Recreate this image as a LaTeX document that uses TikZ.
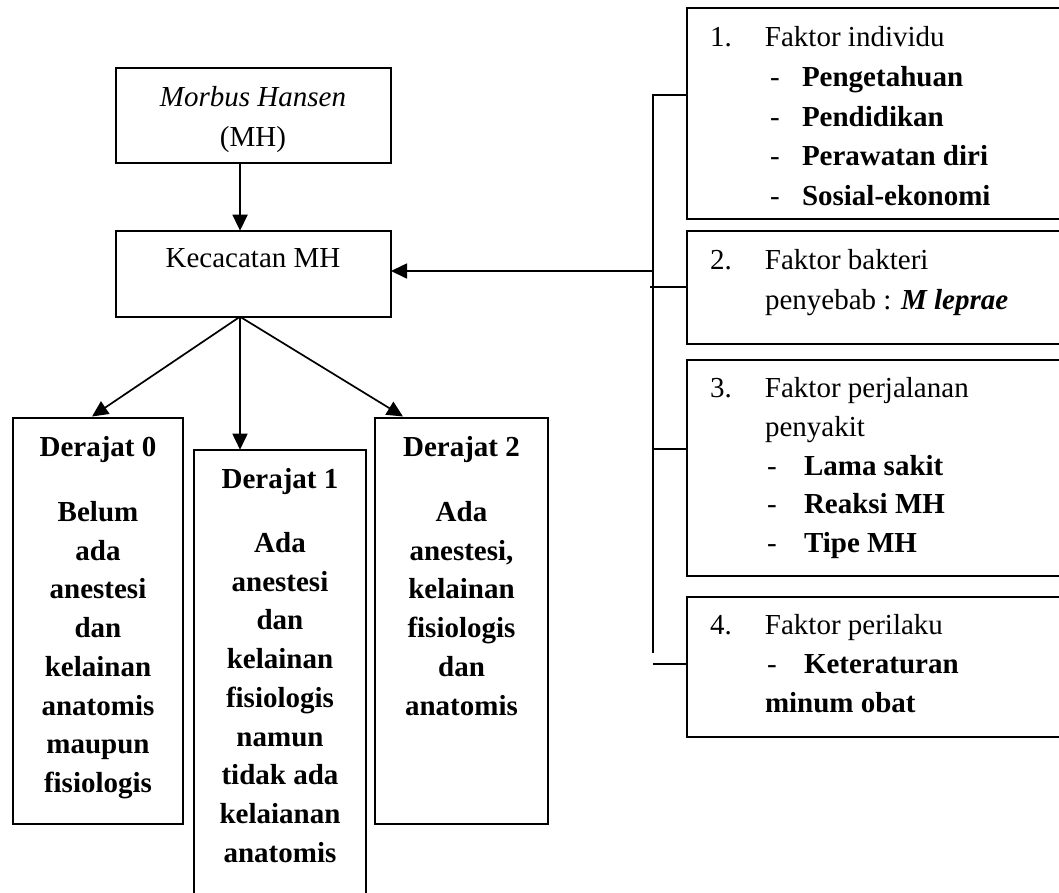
\documentclass[tikz,border=0pt]{standalone}
\usepackage{fontspec}
\setmainfont{Liberation Serif}
\usetikzlibrary{arrows.meta,calc}
\begin{document}
\begin{tikzpicture}[x=1pt,y=-1pt,
  box/.style={draw,line width=1.7pt,rectangle,inner sep=0pt,outer sep=0pt,anchor=north west},
  arr/.style={line width=1.7pt,-{Triangle[length=16pt,width=15pt]}},
  ln/.style={line width=1.7pt},
  ctxt/.style={inner sep=0pt,outer sep=0pt,align=center,anchor=north,font=\fontsize{29}{#1}\selectfont},
  btxt/.style={inner sep=0pt,outer sep=0pt,align=center,anchor=north,font=\bfseries\fontsize{29}{#1}\selectfont},
  htxt/.style={inner sep=0pt,anchor=base,font=\bfseries\fontsize{29}{40}\selectfont},
  ltxt/.style={inner sep=0pt,outer sep=0pt,align=left,anchor=north west,font=\fontsize{29}{#1}\selectfont}
]
\useasboundingbox (0,0) rectangle (1059,892);
\clip (0,0) rectangle (1059,892);

% left boxes
\node[box,minimum width=275.3pt,minimum height=95pt] (mh) at (115.7,68) {};
\node[box,minimum width=275.3pt,minimum height=86pt] (kc) at (115.7,230.7) {};
\node[box,minimum width=170.3pt,minimum height=406.3pt] (d0) at (12.7,417.7) {};
\node[box,minimum width=172pt,minimum height=470pt] (d1) at (194,449.7) {};
\node[box,minimum width=173pt,minimum height=406.3pt] (d2) at (375,417.7) {};

\node[ctxt=40] (mht) at (253,78.5) {\strut\textit{Morbus Hansen}\\(MH)};
\node[inner sep=0pt,anchor=base,font=\fontsize{29}{40}\selectfont] (kct) at (253,267.5) {Kecacatan MH};

\node[htxt] (d0h) at (98,456.5) {Derajat 0};
\node[htxt] (d1h) at (280,488.5) {Derajat 1};
\node[htxt] (d2h) at (461.5,456.5) {Derajat 2};

\node[btxt=38.7] (d0t) at (98,494.4) {\strut Belum\\ada\\anestesi\\dan\\kelainan\\anatomis\\maupun\\fisiologis};
\node[btxt=38.7] (d1t) at (280,525.4) {\strut Ada\\anestesi\\dan\\kelainan\\fisiologis\\namun\\tidak ada\\kelaianan\\anatomis};
\node[btxt=38.7] (d2t) at (461.5,494.4) {\strut Ada\\anestesi,\\kelainan\\fisiologis\\dan\\anatomis};

% right boxes
\node[box,minimum width=420pt,minimum height=211pt] (f1) at (687,8) {};
\node[box,minimum width=420pt,minimum height=113pt] (f2) at (687,231) {};
\node[box,minimum width=420pt,minimum height=216pt] (f3) at (687,360) {};
\node[box,minimum width=420pt,minimum height=140pt] (f4) at (687,597) {};

\node[ltxt=39.8] (f1t) at (710,18.6) {\strut\makebox[55pt][l]{1.}Faktor individu\\
\hspace*{60pt}\makebox[32pt][l]{-}\textbf{Pengetahuan}\\
\hspace*{60pt}\makebox[32pt][l]{-}\textbf{Pendidikan}\\
\hspace*{60pt}\makebox[32pt][l]{-}\textbf{Perawatan diri}\\
\hspace*{60pt}\makebox[32pt][l]{-}\textbf{Sosial-ekonomi}};
\node[ltxt=40] (f2t) at (710,241.5) {\strut\makebox[55pt][l]{2.}Faktor bakteri\\
\hspace*{55pt}penyebab : \textbf{\textit{M leprae}}};
\node[ltxt=38.8] (f3t) at (710,370.3) {\strut\makebox[55pt][l]{3.}Faktor perjalanan\\
\hspace*{55pt}penyakit\\
\hspace*{57pt}\makebox[37pt][l]{-}\textbf{Lama sakit}\\
\hspace*{57pt}\makebox[37pt][l]{-}\textbf{Reaksi MH}\\
\hspace*{57pt}\makebox[37pt][l]{-}\textbf{Tipe MH}};
\node[ltxt=39] (f4t) at (710,607.2) {\strut\makebox[55pt][l]{4.}Faktor perilaku\\
\hspace*{57pt}\makebox[37pt][l]{-}\textbf{Keteraturan}\\
\hspace*{55pt}\textbf{minum obat}};

% connectors left
\coordinate (ks) at (240,316.7);
\draw[arr] ([xshift=-13.3pt]mh.south) -- ([xshift=-13.3pt]kc.north);
\draw[arr] (ks) -- (92,416.5);
\draw[arr] (ks) -- (d1.north -| ks);
\draw[arr] (ks) -- (403,416.5);

% bus on the right
\coordinate (bt) at (653,95);
\coordinate (bb) at (653,653);
\coordinate (bm) at (653,271);
\draw[ln] (f1.west |- bt) -- (bt) -- (bb);
\draw[arr] (bm) -- (kc.east |- bm);
\coordinate (s2) at (650,286.7);
\coordinate (s3) at (653,449);
\coordinate (s4) at (653,664);
\draw[ln] (s2) -- (f2.west |- s2);
\draw[ln] (s3) -- (f3.west |- s3);
\draw[ln] (s4) -- (f4.west |- s4);
\end{tikzpicture}
\end{document}
